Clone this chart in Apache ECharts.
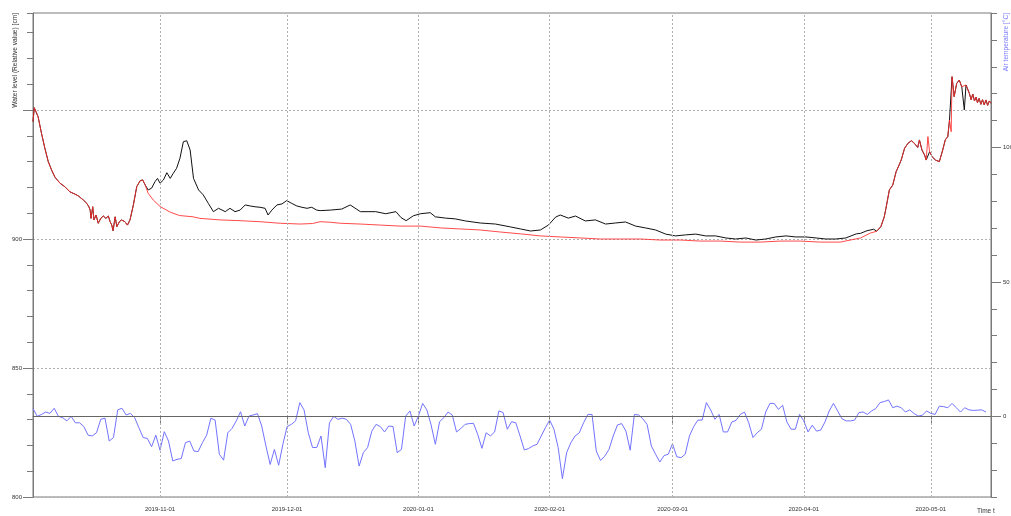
<!DOCTYPE html>
<html><head><meta charset="utf-8">
<script src="https://cdn.jsdelivr.net/npm/echarts@6/dist/echarts.min.js"></script>
<style>html,body{margin:0;padding:0;background:#fff}#c{width:1011px;height:516px}</style>
</head><body><div id="c"></div>
<script>
// ---- data ----
const startDate = [2019, 10, 2];          // first day of the series (day offset 0)
const endDayOffset = 226.2;               // axis end, days after start
const monthTicks = ['2019-11-01','2019-12-01','2020-01-01','2020-02-01','2020-03-01','2020-04-01','2020-05-01'];
const leftTickValues = [800, 850, 900, 950];
const leftLabelValues = [800, 850, 900];
const rightTickValues = [0, 50, 100];

// daily air temperature, one value per day from startDate
const airTemp = [
 2.9,0,0.7,1.6,1.1,3.0,0,-0.5,-1.7,0,
 -2.4,-2.4,-3.8,-7.0,-7.3,-6.1,-1.1,-0.7,-9.2,-7.9,
 2.4,3.0,0.5,1.1,-0.5,-4.2,-7.9,-8.2,-11.3,-7.0,
 -12.6,-5.7,-9.2,-16.6,-16.0,-15.7,-9.8,-9.2,-12.9,-13.1,
 -9.8,-7.0,-0.7,-1.4,-14.1,-16.3,-6.1,-4.5,-1.7,1.7,
 -3.6,0.1,0.5,1.0,-3.6,-11.0,-17.9,-12.3,-18.2,-10.4,
 -3.8,-3.0,-1.7,5.1,2.4,-6.1,-11.6,-11.6,-7.3,-19.1,
 -2.4,0,-1.1,-0.7,-1.1,-3.0,-9.2,-18.5,-13.5,-11.6,
 -5.5,-3.0,-3.8,-5.8,-3.6,-3.8,-13.5,-12.3,0.1,2.0,
 -3.6,0.1,4.8,2.4,-3.2,-10.4,-2.0,-0.5,1.6,0.5,
 -5.8,-4.6,-3.0,-2.7,-2.6,-6.7,-11.9,-6.1,-7.3,-5.8,
 2.0,1.4,-4.8,-2.0,-2.4,-7.3,-12.5,-12.0,-11.0,-10.4,
 -7.3,-4.2,-1.4,-4.8,-11.6,-23.2,-13.5,-9.8,-7.3,-6.1,
 -2.4,0.7,0.7,-12.9,-16.4,-14.8,-12.3,-7.3,-3.2,-2.7,
 -5.5,-12.6,0.7,0.5,-0.9,-3.0,-11.0,-14.1,-17.0,-14.6,
 -14.1,-10.2,-15.0,-15.4,-14.1,-7.3,-3.8,-1.4,-1.4,5.1,
 2.4,-1.1,0.7,-5.8,-5.8,-2.1,-1.5,0.7,1.6,-2.4,
 -7.9,-6.1,-4.8,1.6,4.8,4.8,2.6,4.1,-2.1,-4.8,
 -4.8,0.7,-1.7,-5.8,-3.3,-5.5,-5.1,-2.1,2.0,4.8,
 2.0,-0.9,-1.7,-1.7,-1.4,1.4,1.6,0.7,2.0,2.9,
 5.1,5.5,6.1,3.2,3.8,3.2,1.6,2.4,1.1,0.1,
 0.4,2.0,1.1,0.7,3.8,3.6,3.2,4.8,3.2,1.6,
 3.2,2.4,2.2,2.3,2.4,1.6
];

// water level, [day offset, level]
const measuredLevel = [
 [0,945.5],[0.3,950.9],[0.6,950.7],[1.2,947.4],[2.0,941.0],[2.8,935.2],[3.6,930.0],[4.4,926.7],[5.2,923.9],[6.4,921.6],
 [7.5,920.3],[8.7,918.3],[9.9,917.4],[10.7,916.7],[11.9,915.1],[12.7,913.8],[13.2,912.5],[13.5,911.2],[13.7,908.0],[14.1,912.5],
 [14.4,907.4],[14.9,909.3],[15.4,906.1],[16.0,908.0],[16.6,908.9],[17.2,908.0],[17.8,908.9],[18.2,906.7],[18.6,905.4],[18.9,903.2],
 [19.4,908.6],[19.8,904.8],[20.4,906.7],[20.9,907.4],[21.7,906.7],[22.3,905.4],[22.9,907.4],[23.7,913.2],[24.5,920.3],[25.3,922.6],
 [25.9,922.9],[26.5,920.9],
 [27.2,919.0],[28.0,919.7],[28.8,922.2],[29.4,923.5],[30.0,921.6],[30.8,922.9],[31.6,925.7],[32.4,923.5],[33.1,925.4],[33.9,927.4],
 [34.7,931.3],[35.5,937.7],[36.3,938.1],[37.1,934.5],[37.9,923.5],[39.1,919.0],[40.2,917.1],[41.4,913.8],[42.6,910.6],[43.8,911.9],
 [45.4,910.6],[46.5,911.9],[47.7,910.6],[48.9,911.2],[50.1,913.2],[51.3,912.8],[52.4,912.5],[53.6,912.3],[54.8,911.9],[55.5,909.3],
 [56.4,911.2],[57.6,913.2],[58.8,913.6],[59.9,914.9],[61.1,913.8],[62.3,912.8],[63.5,912.3],[64.7,911.9],[65.8,912.3],[67.0,911.2],
 [67.8,911.0],[70.2,911.2],[72.9,911.6],[74.9,913.2],[77.3,910.6],[80.9,910.6],[83.3,909.8],[85.7,910.6],[86.9,908.3],[88.1,907.1],
 [89.8,909.0],[91.5,909.8],[93.8,910.2],[95.0,908.6],[97.4,908.1],[99.7,907.8],[102.1,907.0],[105.6,906.2],[109.2,905.8],[112.7,904.7],
 [115.1,903.9],[117.5,903.1],[119.8,903.5],[121.7,905.4],[123.4,908.5],[124.5,909.3],[126.4,908.1],[128.1,908.9],[130.4,907.0],[132.8,907.4],
 [135.2,905.8],[137.5,906.2],[139.9,906.6],[142.3,905.0],[144.6,904.3],[147.0,903.5],[149.4,901.9],[151.7,901.2],[154.1,901.6],[156.5,901.9],
 [158.8,901.2],[161.2,901.2],[163.6,900.4],[165.9,900.0],[168.3,900.4],[170.7,899.6],[173.0,900.0],[175.4,900.8],[177.8,901.2],[180.1,900.8],
 [182.5,900.8],[184.9,900.4],[187.2,900.0],[189.6,900.0],[191.9,900.4],[194.4,902.0],[195.4,902.2],[196.9,903.2],[198.5,903.8],[199.2,903.0],
 [200.2,904.8],[201.0,908.6],[201.4,911.9],[202.2,919.0],[203.0,920.9],[203.8,926.1],[204.4,928.3],[205.0,930.6],[205.8,935.2],[206.6,937.1],
 [207.4,938.1],[208.1,937.1],[208.9,935.5],[209.3,938.4],[209.9,934.5],[210.5,932.6],[210.9,930.6],[211.7,933.8],[212.3,931.9],[213.1,930.6],
 [214.0,930.0],[214.8,934.5],[215.4,938.4],[216.0,939.7],[216.4,946.1],[217.0,962.9],[217.5,955.2],[218.1,960.3],[218.7,961.6],[219.3,959.0],
 [219.9,950.0],[220.3,959.7],[221.1,956.4],[221.5,954.0],[221.9,956.2],[222.3,953.5],[222.7,955.0],[223.0,952.8],[223.4,954.5],[223.8,952.2],
 [224.2,954.0],[224.6,952.0],[225.0,953.9],[225.4,951.8],[225.8,953.5],[226.2,952.6]
];

const simulatedLevel = [
 [0,945.5],[0.3,950.9],[0.6,950.7],[1.2,947.4],[2.0,941.0],[2.8,935.2],[3.6,930.0],[4.4,926.7],[5.2,923.9],[6.4,921.6],
 [7.5,920.3],[8.7,918.3],[9.9,917.4],[10.7,916.7],[11.9,915.1],[12.7,913.8],[13.2,912.5],[13.5,911.2],[13.7,908.0],[14.1,912.5],
 [14.4,907.4],[14.9,909.3],[15.4,906.1],[16.0,908.0],[16.6,908.9],[17.2,908.0],[17.8,908.9],[18.2,906.7],[18.6,905.4],[18.9,903.2],
 [19.4,908.6],[19.8,904.8],[20.4,906.7],[20.9,907.4],[21.7,906.7],[22.3,905.4],[22.9,907.4],[23.7,913.2],[24.5,920.3],[25.3,922.6],
 [25.9,922.9],[26.5,920.9],
 [27.2,917.7],[28.4,915.1],[30.0,912.6],[32.4,910.4],[34.6,909.1],[37.8,908.6],[39.4,908.0],[44.2,907.4],[48.9,907.1],[53.6,906.7],
 [58.4,906.1],[63.1,905.8],[66.0,906.0],[67.8,906.7],[70.2,906.5],[72.6,906.1],[77.3,905.8],[82.0,905.4],[86.7,905.0],[91.5,905.0],
 [96.2,904.3],[100.9,903.9],[105.6,903.5],[110.4,902.7],[115.1,902.0],[119.8,901.2],[124.5,900.8],[129.3,900.4],[134.0,900.0],[138.7,900.0],
 [143.4,900.0],[148.1,899.6],[152.9,899.6],[157.6,899.2],[162.3,899.2],[167.0,898.8],[171.7,898.8],[176.5,899.2],[181.2,899.2],[185.9,898.8],
 [190.6,898.8],[193.0,899.6],[195.4,900.4],[197.7,902.3],[199.2,903.0],
 [200.2,904.8],[201.0,908.6],[201.4,911.9],[202.2,919.0],[203.0,920.9],[203.8,926.1],[204.4,928.3],[205.0,930.6],[205.8,935.2],[206.6,937.1],
 [207.4,938.1],[208.1,937.1],[208.9,935.5],[209.3,938.4],[209.9,934.5],[210.5,932.6],[210.9,930.6],[211.3,939.7],[211.7,933.8],[212.3,931.9],
 [213.1,930.6],[214.0,930.0],[214.8,934.5],[215.4,938.4],[216.0,939.7],[216.4,946.1],[216.8,941.6],[217.0,962.9],[217.5,955.2],[218.1,960.3],
 [218.7,961.6],[219.3,959.0],[220.3,959.7],[221.1,956.4],[221.5,954.0],[221.9,956.2],[222.3,953.5],[222.7,955.0],[223.0,952.8],[223.4,954.5],
 [223.8,952.2],[224.2,954.0],[224.6,952.0],[225.0,953.9],[225.4,951.8],[225.8,953.5],[226.2,952.6]
];

// ---- build ----
const DAY = 86400000;
const t0 = new Date(startDate[0], startDate[1] - 1, startDate[2]).getTime();
const toT = d => t0 + d * DAY;
const monthTs = monthTicks.map(s => { const p = s.split('-').map(Number); return new Date(p[0], p[1] - 1, p[2]).getTime(); });
const pad = n => (n < 10 ? '0' : '') + n;
const fmtDate = v => { const d = new Date(v); return d.getFullYear() + '-' + pad(d.getMonth() + 1) + '-' + pad(d.getDate()); };
const FONT = 'Liberation Sans';
const AXIS = '#7a7a7a';
const GRIDC = '#b0b0b0';

const chart = echarts.init(document.getElementById('c'), null, {renderer: 'canvas'});
chart.setOption({
  animation: false,
  backgroundColor: '#fff',
  grid: {left: 33, right: 20, top: 13, bottom: 19, show: true, borderColor: AXIS, borderWidth: 1,
         containLabel: false, outerBoundsMode: 'none'},
  xAxis: {
    type: 'value', min: toT(0), max: toT(endDayOffset),
    axisLine: {lineStyle: {color: AXIS}},
    axisTick: {show: true, customValues: monthTs, length: 7, lineStyle: {color: AXIS}},
    axisLabel: {customValues: monthTs, formatter: v => fmtDate(v), fontSize: 6, color: '#333', margin: 9, fontFamily: FONT, hideOverlap: false},
    splitLine: {show: false}
  },
  yAxis: [
    {type: 'value', position: 'left', min: 800, max: 987.6, interval: 50,
     axisLine: {show: true, lineStyle: {color: AXIS}},
     axisTick: {show: true, customValues: leftTickValues, length: 10, lineStyle: {color: AXIS}},
     axisLabel: {customValues: leftLabelValues, fontSize: 6, color: '#333', margin: 11, fontFamily: FONT},
     splitLine: {show: true, lineStyle: {color: GRIDC, type: [2, 2], width: 1}}},
    {type: 'value', position: 'left', min: 800, max: 987.6, interval: 10,
     axisLine: {show: false}, axisTick: {show: true, length: 6, lineStyle: {color: AXIS}},
     axisLabel: {show: false}, splitLine: {show: false}},
    {type: 'value', position: 'right', min: -30, max: 150, interval: 10,
     axisLine: {show: true, lineStyle: {color: AXIS}},
     axisTick: {show: true, customValues: rightTickValues, length: 10, lineStyle: {color: AXIS}},
     axisLabel: {customValues: rightTickValues, fontSize: 6, color: '#333', margin: 12, fontFamily: FONT},
     splitLine: {show: false}},
    {type: 'value', position: 'right', min: -30, max: 150, interval: 10,
     axisLine: {show: false}, axisTick: {show: true, length: 6, lineStyle: {color: AXIS}},
     axisLabel: {show: false}, splitLine: {show: false}}
  ],
  series: [
    {name: 'Water level (measured)', type: 'line', yAxisIndex: 0, showSymbol: false, symbol: 'none',
     data: measuredLevel.map(p => [toT(p[0]), p[1]]),
     lineStyle: {color: '#111', width: 1}, itemStyle: {color: '#111'}, z: 3,
     markLine: {silent: true, symbol: ['none', 'none'], label: {show: false},
       lineStyle: {color: GRIDC, type: [2, 2], width: 1},
       data: monthTs.map(t => ({xAxis: t}))}},
    {name: 'Water level (corrected)', type: 'line', yAxisIndex: 0, showSymbol: false, symbol: 'none',
     data: simulatedLevel.map(p => [toT(p[0]), p[1]]),
     lineStyle: {color: '#ff2a2a', width: 1, opacity: 0.85}, itemStyle: {color: '#ff2a2a'}, z: 4},
    {name: 'Air temperature', type: 'line', yAxisIndex: 2, showSymbol: false, symbol: 'none',
     data: airTemp.map((v, i) => [toT(i), v]),
     lineStyle: {color: '#7373ff', width: 1}, itemStyle: {color: '#7373ff'}, z: 4,
     markLine: {silent: true, symbol: ['none', 'none'], label: {show: false},
       lineStyle: {color: '#666', type: 'solid', width: 1},
       data: [{yAxis: 0}]}}
  ],
  graphic: [
    {type: 'text', x: 15, y: 13, rotation: Math.PI / 2,
     style: {text: 'Water level (Relative value) [cm]', fontSize: 6.6, fill: '#333', align: 'right', verticalAlign: 'middle', fontFamily: FONT}},
    {type: 'text', x: 1006, y: 13, rotation: Math.PI / 2,
     style: {text: 'Air temperature [°C]', fontSize: 6.6, fill: '#7b7bff', align: 'right', verticalAlign: 'middle', fontFamily: FONT}},
    {type: 'text', x: 977, y: 511,
     style: {text: 'Time t', fontSize: 6.5, fill: '#333', align: 'left', verticalAlign: 'middle', fontFamily: FONT}}
  ]
});
</script></body></html>
